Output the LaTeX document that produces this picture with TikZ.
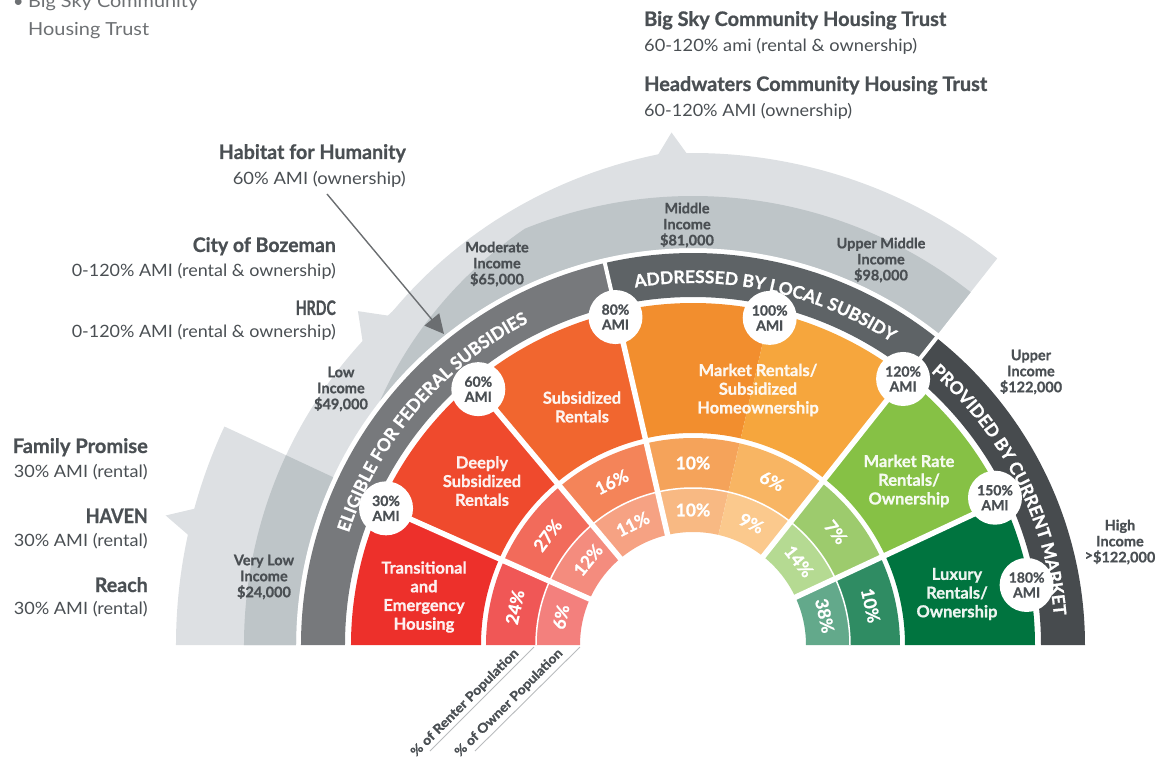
\documentclass[tikz,border=0pt]{standalone}
\usepackage{fontspec}
\setmainfont{Lato}[BoldFeatures={FakeBold=0.9}]
\usepackage{graphicx}
\usetikzlibrary{arrows.meta,decorations.text}
\definecolor{bandL}{HTML}{DDE0E3}
\definecolor{bandM}{HTML}{BEC5C8}
\definecolor{dkA}{HTML}{77797C}
\definecolor{dkB}{HTML}{5E6366}
\definecolor{dkC}{HTML}{474B4E}
\definecolor{txt}{HTML}{4A4F53}
\definecolor{txtL}{HTML}{6D7073}
\definecolor{leadc}{HTML}{B9BCBE}
\definecolor{arrowcol}{HTML}{6B6E71}
\definecolor{wTrans}{HTML}{ED302B}
\definecolor{wDeep}{HTML}{EF4A2D}
\definecolor{wSub}{HTML}{F1662F}
\definecolor{wMktL}{HTML}{F28E2E}
\definecolor{wMktR}{HTML}{F6A63D}
\definecolor{wRate}{HTML}{86C145}
\definecolor{wLux}{HTML}{00743F}
\definecolor{oA}{HTML}{F05756}\definecolor{iA}{HTML}{F3807D}
\definecolor{oB}{HTML}{F26B5B}\definecolor{iB}{HTML}{F48C7E}
\definecolor{oC}{HTML}{F48459}\definecolor{iC}{HTML}{F6A283}
\definecolor{oD}{HTML}{F5A35A}\definecolor{iD}{HTML}{F8B983}
\definecolor{oE}{HTML}{F8B563}\definecolor{iE}{HTML}{FBC98D}
\definecolor{oF}{HTML}{9DCB6D}\definecolor{iF}{HTML}{B5DA92}
\definecolor{oG}{HTML}{2F8C63}\definecolor{iG}{HTML}{63A98B}
\newcommand\annsec[5]{\fill[#1] (#2:#4) arc[start angle=#2,end angle=#3,radius=#4] -- (#3:#5) arc[start angle=#3,end angle=#2,radius=#5] -- cycle;}
\newcommand\fitw[2]{\resizebox{#1pt}{\height}{#2}}
\tikzset{
  ami/.style={circle, fill=white, minimum size=54pt, inner sep=0pt, align=center, text=txt, font=\bfseries\fontsize{14}{15}\selectfont},
  pct/.style={text=white, font=\bfseries\fontsize{17.5}{17.5}\selectfont, inner sep=0pt},
  wlab/.style={text=white, text opacity=0.92, align=center, font=\bfseries\fontsize{16.5}{18.7}\selectfont, inner sep=0pt},
  inc/.style={text=txt, align=center, font=\bfseries\fontsize{14.5}{16}\selectfont, inner sep=0pt},
  orgname/.style={text=txt, font=\bfseries\fontsize{20}{20}\selectfont, inner sep=0pt},
  orgsub/.style={text=txt, font=\fontsize{17}{17}\selectfont, inner sep=0pt},
  topnote/.style={text=txtL, font=\fontsize{18}{18}\selectfont, inner sep=0pt},
  sepline/.style={white, line width=5.5pt},
  popl/.style={text=txt, font=\bfseries\fontsize{13}{13}\selectfont, inner sep=0pt},
  lead/.style={draw=leadc, line width=0.9pt},
  arrowc/.style={draw=arrowcol, line width=1.4pt, -{Triangle[length=19pt,width=19pt]}},
  bandtext/.style={decorate, decoration={text along path, text align=center, text color=white}}
}
\begin{document}
\begin{tikzpicture}[x=1pt,y=1pt]
\useasboundingbox (-693,-116) rectangle (466,645);
\clip (-693,-116) rectangle (466,645);

% ---------- light grey bands ----------
\fill[bandL] (180:397) arc[start angle=180,end angle=155,radius=397] -- (155:517) arc[start angle=155,end angle=180,radius=517] -- cycle;
\fill[bandL] (164.6:515) -- (166.2:543) -- (167.8:515) -- cycle;
\fill[bandL] (180:397) arc[start angle=180,end angle=51.8,radius=397] -- (51.8:449) arc[start angle=51.8,end angle=180,radius=449] -- cycle;
\fill[bandL] (132.6:447) -- (135.1:473) -- (137.6:447) -- cycle;
\fill[bandL] (51.8:397) -- (51.8:492) arc[start angle=51.8,end angle=94,radius=492] -- plot[domain=94:132,samples=30] (\x:{492-43*(\x-94)/38}) -- (132:397) arc[start angle=132,end angle=51.8,radius=397] -- cycle;
\fill[bandL] (90.6:490) -- (92.4:513) -- (94.2:490) -- cycle;
% ---------- mid grey overlaps ----------
\fill[bandM] (180:397) arc[start angle=180,end angle=155,radius=397] -- (155:449) arc[start angle=155,end angle=180,radius=449] -- cycle;
\fill[bandM] (51.8:397) -- (51.8:449) arc[start angle=51.8,end angle=112,radius=449] -- plot[domain=112:142,samples=30] (\x:{449-52*(\x-112)/30}) arc[start angle=142,end angle=51.8,radius=397] -- cycle;

% ---------- dark band ----------
\annsec{dkA}{103}{180}{348}{392}
\annsec{dkB}{51.6}{103}{348}{392}
\annsec{dkC}{0}{51.6}{348}{392}
\draw[white, line width=4pt] (103:344) -- (103:396);
\draw[white, line width=4pt] (51.6:344) -- (51.6:396);

% ---------- main wedges ----------
\annsec{wTrans}{156}{180}{212}{342}
\annsec{wDeep}{130}{156}{212}{342}
\annsec{wSub}{103}{130}{212}{342}
\annsec{wMktL}{77}{103}{212}{342}
\annsec{wMktR}{51.6}{77}{212}{342}
\annsec{wRate}{25}{51.6}{212}{342}
\annsec{wLux}{0}{25}{212}{342}
% ---------- renter ring ----------
\annsec{oA}{156}{180}{157}{207}
\annsec{oB}{130}{156}{157}{207}
\annsec{oC}{103}{130}{157}{207}
\annsec{oD}{77}{103}{157}{207}
\annsec{oE}{51.6}{77}{157}{207}
\annsec{oF}{25}{51.6}{157}{207}
\annsec{oG}{0}{25}{157}{207}
% ---------- owner ring ----------
\annsec{iA}{156}{180}{113}{157}
\annsec{iB}{130}{156}{113}{157}
\annsec{iC}{103}{130}{113}{157}
\annsec{iD}{77}{103}{113}{157}
\annsec{iE}{51.6}{77}{113}{157}
\annsec{iF}{25}{51.6}{113}{157}
\annsec{iG}{0}{25}{113}{157}
\draw[white, line width=1.5pt] (0:157) arc[start angle=0,end angle=180,radius=157];
\foreach \a in {156,130,103,51.6,25}{\draw[sepline] (\a:110) -- (\a:345);}

% ---------- band texts ----------
\path[bandtext, decoration={text={|\bfseries\fontsize{17.5}{17.5}\selectfont|ELIGIBLE FOR FEDERAL SUBSIDIES}}] (180:362) arc[start angle=180,end angle=99,radius=362];
\path[bandtext, decoration={text={|\bfseries\fontsize{17.5}{17.5}\selectfont|ADDRESSED BY LOCAL SUBSIDY}}] (118:362) arc[start angle=118,end angle=38,radius=362];
\path[bandtext, decoration={text={|\bfseries\fontsize{17.5}{17.5}\selectfont|PROVIDED BY CURRENT MARKET}}] (67:362) arc[start angle=67,end angle=-13.4,radius=362];

% ---------- AMI circles ----------
\node[ami] (a30) at (156:336) {30\%\\AMI};
\node[ami] (a60) at (130:334) {60\%\\AMI};
\node[ami] (a80) at (103.3:337) {80\%\\AMI};
\node[ami] (a100) at (76.8:336) {100\%\\AMI};
\node[ami] (a120) at (51.7:339) {120\%\\AMI};
\node[ami] (a150) at (26:336) {150\%\\AMI};
\node[ami] (a180) at (10.2:339) {180\%\\AMI};

% ---------- wedge labels ----------
\node[wlab] (wtrans) at (-269,48) {Transitional\\and\\Emergency\\Housing};
\node[wlab] (wdeep) at (-211,164) {Deeply\\Subsidized\\Rentals};
\node[wlab] (wsub) at (-111,238) {Subsidized\\Rentals};
\node[wlab] (wmkt) at (65,255) {Market Rentals/\\Subsidized\\Homeownership};
\node[wlab] (wrate) at (216,164) {Market Rate\\Rentals/\\Ownership};
\node[wlab] (wlux) at (264,51) {Luxury\\Rentals/\\Ownership};

% ---------- percentages ----------
\node[pct, rotate=78] (pr1) at (168:182) {24\%};
\node[pct, rotate=53] (pr2) at (143:182) {27\%};
\node[pct, rotate=26.5] (pr3) at (116.5:182) {16\%};
\node[pct, rotate=0] (pr4) at (90:182) {10\%};
\node[pct, rotate=-25.7] (pr5) at (64.3:182) {6\%};
\node[pct, rotate=-51.7] (pr6) at (38.3:182) {7\%};
\node[pct, rotate=-77.5] (pr7) at (12.5:182) {10\%};
\node[pct, rotate=78] (po1) at (168:135) {6\%};
\node[pct, rotate=51] (po2) at (141:135) {12\%};
\node[pct, rotate=26.5] (po3) at (116.5:135) {11\%};
\node[pct, rotate=0] (po4) at (90:135) {10\%};
\node[pct, rotate=-25.7] (po5) at (64.3:135) {9\%};
\node[pct, rotate=-51.7] (po6) at (38.3:135) {14\%};
\node[pct, rotate=-77.5] (po7) at (12.5:135) {38\%};

% ---------- income labels ----------
\node[inc] (ivl) at (-429,68) {Very Low\\Income\\\$24,000};
\node[inc] (il) at (-352,256) {Low\\Income\\\$49,000};
\node[inc] (imod) at (-196,381) {Moderate\\Income\\\$65,000};
\node[inc] (imid) at (-6,420) {Middle\\Income\\\$81,000};
\node[inc] (ium) at (188,385) {Upper Middle\\Income\\\$98,000};
\node[inc] (iup) at (338,273) {Upper\\Income\\\$122,000};
\node[inc] (ihi) at (427,103) {High\\Income\\\raisebox{2pt}{>}\$122,000};

% ---------- organisations ----------
\node[orgname, anchor=base east] (fp) at (-545,192) {\fitw{135}{Family Promise}};
\node[orgsub, anchor=base east] (fps) at (-545,168) {\fitw{134}{30\% AMI (rental)}};
\node[orgname, anchor=base east] (hv) at (-545,122) {\fitw{62}{HAVEN}};
\node[orgsub, anchor=base east] (hvs) at (-545,99) {\fitw{134}{30\% AMI (rental)}};
\node[orgname, anchor=base east] (re) at (-545,53) {\fitw{53}{Reach}};
\node[orgsub, anchor=base east] (res) at (-545,31) {\fitw{134}{30\% AMI (rental)}};
\node[orgname, anchor=base east] (hab) at (-287,486) {\fitw{187}{Habitat for Humanity}};
\node[orgsub, anchor=base east] (habs) at (-287,460) {\fitw{173}{60\% AMI (ownership)}};
\node[orgname, anchor=base east] (boz) at (-357,393) {\fitw{143}{City of Bozeman}};
\node[orgsub, anchor=base east] (bozs) at (-357,368) {\fitw{264}{0-120\% AMI (rental \& ownership)}};
\node[orgname, anchor=base east] (hrdc) at (-357,330) {\fitw{40}{HRDC}};
\node[orgsub, anchor=base east] (hrdcs) at (-357,307) {\fitw{264}{0-120\% AMI (rental \& ownership)}};
\node[orgname, anchor=base west] (bsk) at (-49,619) {\fitw{302}{Big Sky Community Housing Trust}};
\node[orgsub, anchor=base west] (bsks) at (-49,593) {\fitw{273}{60-120\% ami (rental \& ownership)}};
\node[orgname, anchor=base west] (hw) at (-49,554) {\fitw{343}{Headwaters Community Housing Trust}};
\node[orgsub, anchor=base west] (hws) at (-49,528) {\fitw{208}{60-120\% AMI (ownership)}};
\node[topnote, anchor=base west] (bul) at (-680,637) {•};
\node[topnote, anchor=base west] (tn1) at (-665,637) {\fitw{170}{Big Sky Community}};
\node[topnote, anchor=base west] (tn2) at (-665,609) {\fitw{121}{Housing Trust}};

% ---------- Habitat arrow ----------
\coordinate (hstart) at (-366,451);
\coordinate (htip) at (-249,311);
\draw[arrowc] (hstart) -- (htip);

% ---------- population leaders ----------
\coordinate (rl1) at (-159,-2);
\coordinate (rl2) at (-263,-106);
\coordinate (ol1) at (-113,-2);
\coordinate (ol2) at (-218,-106);
\draw[lead] (rl1) -- (rl2);
\draw[lead] (ol1) -- (ol2);
\node[popl, rotate=45] (prent) at (-228,-58) {\fitw{146}{\% of Renter Population}};
\node[popl, rotate=45] (pown) at (-184,-58) {\fitw{146}{\% of Owner Population}};
\end{tikzpicture}
\end{document}
